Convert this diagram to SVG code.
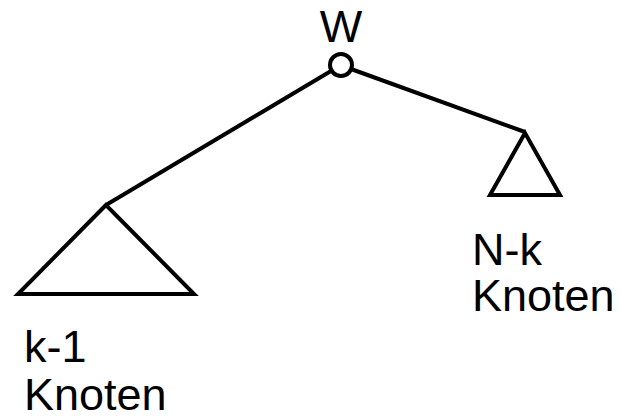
<svg xmlns="http://www.w3.org/2000/svg" width="620" height="417" viewBox="0 0 620 417">
<style>
.s{fill:none;stroke:#000;stroke-width:4;stroke-linejoin:miter}
.t{font-family:"Liberation Sans",Arial,sans-serif;font-size:45px;fill:#000}
</style>
<rect width="620" height="417" fill="#fff"/>
<g id="connectors">
<line class="s" x1="331" y1="71" x2="106" y2="205"/>
<line class="s" x1="351" y1="69" x2="525" y2="132"/>
</g>
<g id="root">
<circle class="s" cx="341" cy="65" r="11" fill="#fff"/>
<text class="t" x="341" y="42" text-anchor="middle">W</text>
</g>
<g id="left">
<path class="s" d="M106,205 L18,294 L194,294 Z"/>
<text class="t" x="24" y="362">k-1</text>
<text class="t" x="24" y="410">Knoten</text>
</g>
<g id="right">
<path class="s" d="M525,133 L490,195 L560,195 Z"/>
<text class="t" x="472" y="265">N-k</text>
<text class="t" x="472" y="311">Knoten</text>
</g>
</svg>
